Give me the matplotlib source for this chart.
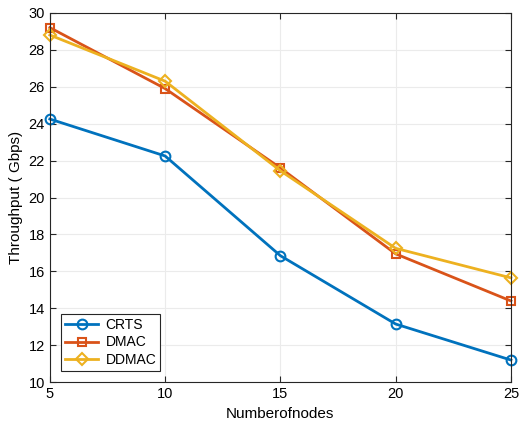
import matplotlib
matplotlib.use('Agg')
import matplotlib.pyplot as plt

plt.rcParams['font.family'] = ['Liberation Sans', 'DejaVu Sans']

# datos
nodes = [5, 10, 15, 20, 25]
crts = [24.25, 22.25, 16.85, 13.15, 11.2]
dmac = [29.2, 25.9, 21.6, 16.95, 14.4]
ddmac = [28.8, 26.3, 21.45, 17.25, 15.65]

fig = plt.figure(figsize=(5.3, 4.28), dpi=100)
ax = fig.add_axes([0.094, 0.107, 0.87, 0.863])

ax.plot(nodes, crts, color='#0072BD', lw=2, marker='o', ms=7, mfc='none', mew=1.5, label='CRTS', clip_on=False)
ax.plot(nodes, dmac, color='#D95319', lw=2, marker='s', ms=6, mfc='none', mew=1.5, label='DMAC', clip_on=False)
ax.plot(nodes, ddmac, color='#EDB120', lw=2, marker='D', ms=6, mfc='none', mew=1.5, label='DDMAC', clip_on=False)

ax.set_xlim(5, 25)
ax.set_ylim(10, 30)
ax.set_xticks([5, 10, 15, 20, 25])
ax.set_yticks(range(10, 31, 2))
ax.grid(True, color='#ebebeb', lw=0.8)
ax.tick_params(direction='in', labelsize=10.5, top=True, right=True, length=4, color='#262626')
for s in ax.spines.values():
    s.set_color('#262626')
    s.set_linewidth(0.8)

ax.set_xlabel('Numberofnodes', fontsize=11)
ax.set_ylabel('Throughput ( Gbps)', fontsize=11)

leg = ax.legend(loc='lower left', fontsize=10, fancybox=False, framealpha=1,
                edgecolor='#262626', borderaxespad=0.8, handlelength=2.4,
                borderpad=0.3, labelspacing=0.25, handletextpad=0.5)
leg.get_frame().set_linewidth(0.8)

plt.savefig('out.png', dpi=100)
